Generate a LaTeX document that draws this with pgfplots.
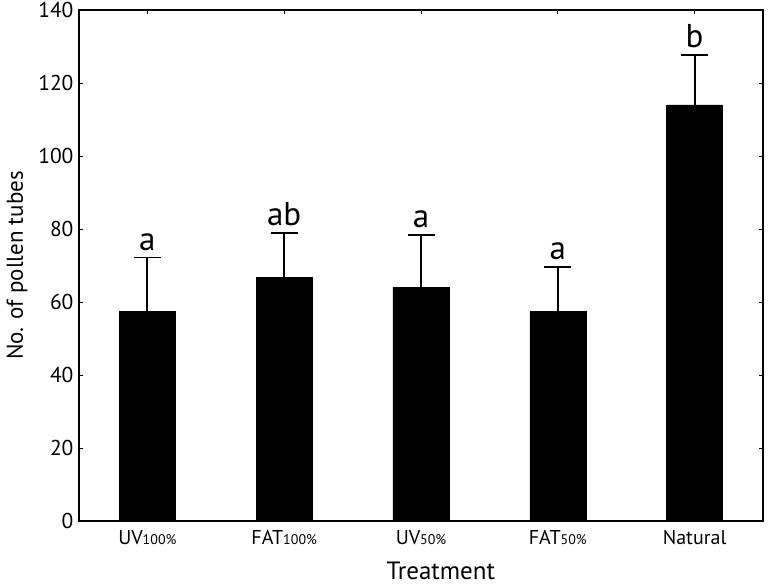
\documentclass[border=0pt]{standalone}
\usepackage{pgfplots}
\pgfplotsset{compat=1.18}
\usepackage{fontspec}
\setmainfont{PT Sans}
\newcommand{\sm}[1]{{\fontsize{14}{14}\selectfont #1}}
\begin{document}
\begin{tikzpicture}
\begin{axis}[
    width=684pt, height=511pt,
    scale only axis,
    xmin=-0.5, xmax=4.5,
    ymin=0, ymax=140,
    ytick={0,20,...,140},
    xtick={0,1,2,3,4},
    xticklabels={UV\sm{100\%},FAT\sm{100\%},UV\sm{50\%},FAT\sm{50\%},Natural},
    tick align=inside,
    major tick length=4pt,
    axis line style={line width=1.8pt},
    tick style={line width=0.8pt, black},
    /pgf/number format/assume math mode=true,
    yticklabel style={font=\fontsize{21.5}{21.5}\selectfont, xshift=-2pt},
    xticklabel style={font=\fontsize{20}{20}\selectfont, yshift=-6pt},
    xlabel={Treatment},
    ylabel={No. of pollen tubes},
    xlabel style={font=\fontsize{25}{25}\selectfont, at={(axis description cs:0.529,-0.0985)}, anchor=center},
    ylabel style={font=\fontsize{23}{23}\selectfont, at={(axis description cs:-0.0906,0.5)}, anchor=center},
]
\addplot[ybar, bar width=0.41, fill=black, draw=black,
    error bars/.cd, y dir=plus, y explicit,
    error bar style={line width=1.8pt, black},
    error mark options={rotate=90, mark size=13.5pt, line width=1.8pt, black}]
  coordinates {
    (0,57.5) +- (0,14.7)
    (1,66.8) +- (0,12.1)
    (2,64.1) +- (0,14.3)
    (3,57.5) +- (0,12.1)
    (4,114.0) +- (0,13.7)
  };
\node[anchor=south, font=\fontsize{33}{33}\selectfont, inner sep=3pt, yshift=4pt] at (axis cs:0,72.2) {a};
\node[anchor=south, font=\fontsize{33}{33}\selectfont, inner sep=3pt, yshift=4pt] at (axis cs:1,78.9) {ab};
\node[anchor=south, font=\fontsize{33}{33}\selectfont, inner sep=3pt, yshift=4pt] at (axis cs:2,78.4) {a};
\node[anchor=south, font=\fontsize{33}{33}\selectfont, inner sep=3pt, yshift=4pt] at (axis cs:3,69.6) {a};
\node[anchor=south, font=\fontsize{33}{33}\selectfont, inner sep=3pt, yshift=4pt] at (axis cs:4,127.7) {b};
\end{axis}
\pgfresetboundingbox
\useasboundingbox (-79pt,-66pt) rectangle (689pt,521pt);
\end{tikzpicture}
\end{document}
